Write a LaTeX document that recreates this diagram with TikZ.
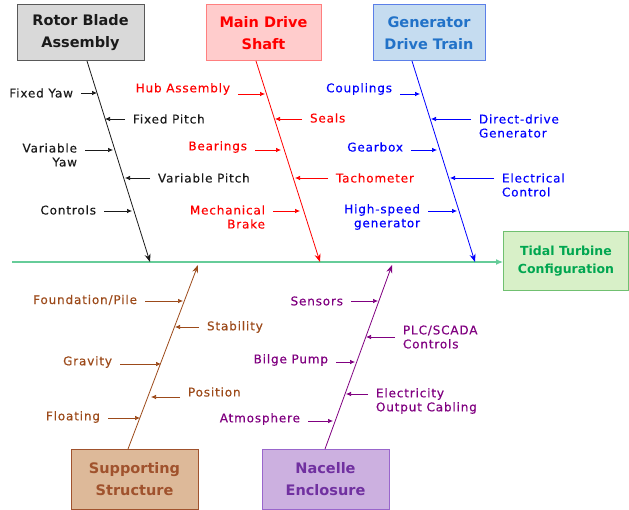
\documentclass[tikz,border=0pt]{standalone}
\usepackage{fontspec}
\setmainfont{DejaVu Sans}
\newfontfamily\labfont[LetterSpace=7,FakeBold=0.4]{DejaVu Sans}
\usetikzlibrary{arrows.meta}

\definecolor{rbdraw}{HTML}{595959}
\definecolor{rbfill}{HTML}{D9D9D9}
\definecolor{rbtext}{HTML}{1A1A1A}
\definecolor{mdsdraw}{HTML}{FF7F7F}
\definecolor{mdsfill}{HTML}{FFCCCC}
\definecolor{mdstext}{HTML}{FF0000}
\definecolor{gdtdraw}{HTML}{5B7FE8}
\definecolor{gdtfill}{HTML}{C5DCF0}
\definecolor{gdttext}{HTML}{2272C8}
\definecolor{gdtlab}{HTML}{0000FF}
\definecolor{ttcdraw}{HTML}{70C070}
\definecolor{ttcfill}{HTML}{D8F0C8}
\definecolor{ttctext}{HTML}{00A650}
\definecolor{spinecol}{HTML}{66CC99}
\definecolor{ssdraw}{HTML}{A0522D}
\definecolor{ssfill}{HTML}{DDB999}
\definecolor{sstext}{HTML}{A0522D}
\definecolor{sslab}{HTML}{9C4A1A}
\definecolor{nedraw}{HTML}{9966CC}
\definecolor{nefill}{HTML}{CCB0E0}
\definecolor{netext}{HTML}{7030A0}
\definecolor{nelab}{HTML}{800080}

\tikzset{
  catbox/.style = {draw, line width=1pt, align=center,
                   font=\fontsize{14.5}{22}\selectfont\bfseries},
  cause/.style  = {inner sep=0pt, outer xsep=8pt, align=center,
                   font=\labfont\fontsize{12}{14}\selectfont},
  sub/.style    = {-{Latex[length=5pt,width=4.5pt]}, line width=0.7pt},
  bone/.style   = {-{Stealth[length=8pt,width=6pt]}, line width=0.8pt},
  spine/.style  = {-{Latex[length=7pt,width=6pt]}, line width=1.2pt, spinecol}
}

\begin{document}
\begin{tikzpicture}[x=1pt,y=-1pt]
\useasboundingbox (0,0) rectangle (629,510);

% category boxes
\node[catbox, draw=rbdraw, fill=rbfill, text=rbtext,
      minimum width=127pt, minimum height=56pt] (rba) at (80.5,33) {Rotor Blade\\Assembly};
\node[catbox, draw=mdsdraw, fill=mdsfill, text=mdstext,
      minimum width=115pt, minimum height=56pt] (mds) at (263.5,33) {Main Drive\\Shaft};
\node[catbox, draw=gdtdraw, fill=gdtfill, text=gdttext,
      minimum width=112pt, minimum height=56pt] (gdt) at (429,33) {Generator\\Drive Train};
\node[catbox, draw=ttcdraw, fill=ttcfill, text=ttctext,
      font=\fontsize{12.5}{18}\selectfont\bfseries,
      minimum width=125pt, minimum height=59pt] (ttc) at (566,261.5) {Tidal Turbine\\Configuration};
\node[catbox, draw=ssdraw, fill=ssfill, text=sstext,
      minimum width=127pt, minimum height=60pt] (sst) at (134.5,479) {Supporting\\Structure};
\node[catbox, draw=nedraw, fill=nefill, text=netext,
      minimum width=127pt, minimum height=60pt] (nen) at (325.5,479) {Nacelle\\Enclosure};

% spine
\coordinate (tail) at (12,262);
\draw[spine] (tail) -- (tail -| ttc.west);

% bones
\coordinate (rbtop) at (87,61);   \coordinate (rbend) at (150,262);
\coordinate (mdtop) at (256,61);  \coordinate (mdend) at (320,262);
\coordinate (gdtop) at (412,61);  \coordinate (gdend) at (475,262);
\coordinate (ssbot) at (128,449); \coordinate (ssend) at (198,265);
\coordinate (nebot) at (325,449); \coordinate (neend) at (392,265);
\draw[bone, rbtext] (rbtop) -- (rbend);
\draw[bone, mdstext] (mdtop) -- (mdend);
\draw[bone, gdtlab] (gdtop) -- (gdend);
\draw[bone, sslab] (ssbot) -- (ssend);
\draw[bone, nelab] (nebot) -- (neend);

% rotor blade causes
\begin{scope}[every node/.style={cause, text=rbtext}, rbtext]
  \coordinate (rb1) at (97,93);  \coordinate (rb2) at (105,119);
  \coordinate (rb3) at (113,150); \coordinate (rb4) at (125,178);
  \coordinate (rb5) at (132,211);
  \node[anchor=east] (fyaw) at (81,93) {Fixed Yaw};
  \node[anchor=west] (fpitch) at (125,119) {Fixed Pitch};
  \node[anchor=east, align=right] (vyaw) at (85,155) {Variable\\Yaw};
  \node[anchor=west] (vpitch) at (150,178) {Variable Pitch};
  \node[anchor=east] (ctrl) at (104,210) {Controls};
  \draw[sub] (fyaw.east |- rb1) -- (rb1);
  \draw[sub] (fpitch.west |- rb2) -- (rb2);
  \draw[sub] (vyaw.east |- rb3) -- (rb3);
  \draw[sub] (vpitch.west |- rb4) -- (rb4);
  \draw[sub] (ctrl.east |- rb5) -- (rb5);
\end{scope}

% main drive shaft causes
\begin{scope}[every node/.style={cause, text=mdstext}, mdstext]
  \coordinate (md1) at (265,94);  \coordinate (md2) at (275,119);
  \coordinate (md3) at (281,150); \coordinate (md4) at (295,178);
  \coordinate (md5) at (300,211);
  \node[anchor=east] (hub) at (238,89) {Hub Assembly};
  \node[anchor=west] (seals) at (302,118) {Seals};
  \node[anchor=east] (bear) at (255,147) {Bearings};
  \node[anchor=west] (tacho) at (328,178) {Tachometer};
  \node[anchor=east, align=right] (brake) at (273,217) {Mechanical\\Brake};
  \draw[sub] (hub.east |- md1) -- (md1);
  \draw[sub] (seals.west |- md2) -- (md2);
  \draw[sub] (bear.east |- md3) -- (md3);
  \draw[sub] (tacho.west |- md4) -- (md4);
  \draw[sub] (brake.east |- md5) -- (md5);
\end{scope}

% generator drive train causes
\begin{scope}[every node/.style={cause, text=gdtlab}, gdtlab]
  \coordinate (gd1) at (420,94);  \coordinate (gd2) at (431,119);
  \coordinate (gd3) at (437,150); \coordinate (gd4) at (450,178);
  \coordinate (gd5) at (457,211);
  \node[anchor=east] (coupl) at (400,89) {Couplings};
  \node[anchor=west, align=left] (ddg) at (471,126) {Direct-drive\\Generator};
  \node[anchor=east] (gearb) at (411,147) {Gearbox};
  \node[anchor=west, align=left] (elec) at (494,185) {Electrical\\Control};
  \node[anchor=east, align=right] (hsg) at (428,217) {High-speed\\generator};
  \draw[sub] (coupl.east |- gd1) -- (gd1);
  \draw[sub] (ddg.west |- gd2) -- (gd2);
  \draw[sub] (gearb.east |- gd3) -- (gd3);
  \draw[sub] (elec.west |- gd4) -- (gd4);
  \draw[sub] (hsg.east |- gd5) -- (gd5);
\end{scope}

% supporting structure causes
\begin{scope}[every node/.style={cause, text=sslab}, sslab]
  \coordinate (ss1) at (183,301); \coordinate (ss2) at (175,327);
  \coordinate (ss3) at (161,364); \coordinate (ss4) at (151,397);
  \coordinate (ss5) at (140,418);
  \node[anchor=east] (found) at (145,300) {Foundation/Pile};
  \node[anchor=west] (stab) at (199,327) {Stability};
  \node[anchor=east] (grav) at (120,362) {Gravity};
  \node[anchor=west] (posn) at (180,392) {Position};
  \node[anchor=east] (float) at (108,417) {Floating};
  \draw[sub] (found.east |- ss1) -- (ss1);
  \draw[sub] (stab.west |- ss2) -- (ss2);
  \draw[sub] (grav.east |- ss3) -- (ss3);
  \draw[sub] (posn.west |- ss4) -- (ss4);
  \draw[sub] (float.east |- ss5) -- (ss5);
\end{scope}

% nacelle enclosure causes
\begin{scope}[every node/.style={cause, text=nelab}, nelab]
  \coordinate (ne1) at (378,301); \coordinate (ne2) at (366,337);
  \coordinate (ne3) at (355,362); \coordinate (ne4) at (346,394);
  \coordinate (ne5) at (333,421);
  \node[anchor=east] (sens) at (351,301) {Sensors};
  \node[anchor=west, align=left] (plc) at (395,337) {PLC/SCADA\\Controls};
  \node[anchor=east] (bilge) at (336,360) {Bilge Pump};
  \node[anchor=west, align=left] (cabl) at (368,401) {Electricity\\Output Cabling};
  \node[anchor=east] (atmo) at (308,419) {Atmosphere};
  \draw[sub] (sens.east |- ne1) -- (ne1);
  \draw[sub] (plc.west |- ne2) -- (ne2);
  \draw[sub] (bilge.east |- ne3) -- (ne3);
  \draw[sub] (cabl.west |- ne4) -- (ne4);
  \draw[sub] (atmo.east |- ne5) -- (ne5);
\end{scope}
\end{tikzpicture}
\end{document}
